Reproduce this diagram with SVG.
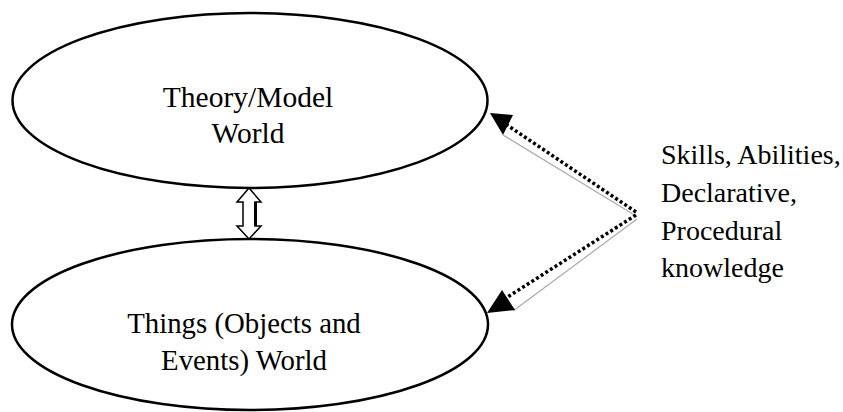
<svg xmlns="http://www.w3.org/2000/svg" width="843" height="412" viewBox="0 0 843 412">
<style>
.node ellipse{fill:#fff;stroke:#000;stroke-width:2.5}
text{font-family:"Liberation Serif","Times New Roman",serif;font-size:28px;fill:#000}
.c text{text-anchor:middle}
.dots{fill:none;stroke:#000;stroke-width:3.5;stroke-dasharray:3 2.5}
.gray{fill:none;stroke:#aaa;stroke-width:1.2}
</style>
<rect width="843" height="412" fill="#fff"/>
<g id="theory" class="node c">
<ellipse cx="250" cy="100.5" rx="237.5" ry="87.5"/>
<text x="248" y="107" style="font-size:29.5px">Theory/Model</text>
<text x="248" y="143" style="font-size:29.5px">World</text>
</g>
<g id="things" class="node c">
<ellipse cx="250" cy="324.5" rx="238" ry="85.5"/>
<text x="244" y="333" style="font-size:28.8px">Things (Objects and</text>
<text x="244" y="370" style="font-size:28.8px">Events) World</text>
</g>
<g id="skills">
<text x="661" y="164">Skills, Abilities,</text>
<text x="661" y="202">Declarative,</text>
<text x="661" y="240">Procedural</text>
<text x="661" y="277">knowledge</text>
</g>
<g id="connectors">
<polygon points="249,188 237,202 243,202 243,226 237,226 249,239 261,226 255,226 255,202 261,202" fill="#fff" stroke="#000" stroke-width="1.5"/>
<line x1="255.5" y1="202" x2="255.5" y2="226" stroke="#000" stroke-width="3"/>
<line class="gray" x1="503" y1="135" x2="636" y2="216"/>
<line class="gray" x1="513" y1="311" x2="637" y2="219"/>
<line class="dots" x1="636" y1="212" x2="507" y2="125"/>
<line class="dots" x1="636" y1="215" x2="506" y2="298"/>
<polygon points="490,113 513,115 503,135" fill="#000"/>
<polygon points="487,313 502,290 515,310" fill="#000"/>
</g>
</svg>
